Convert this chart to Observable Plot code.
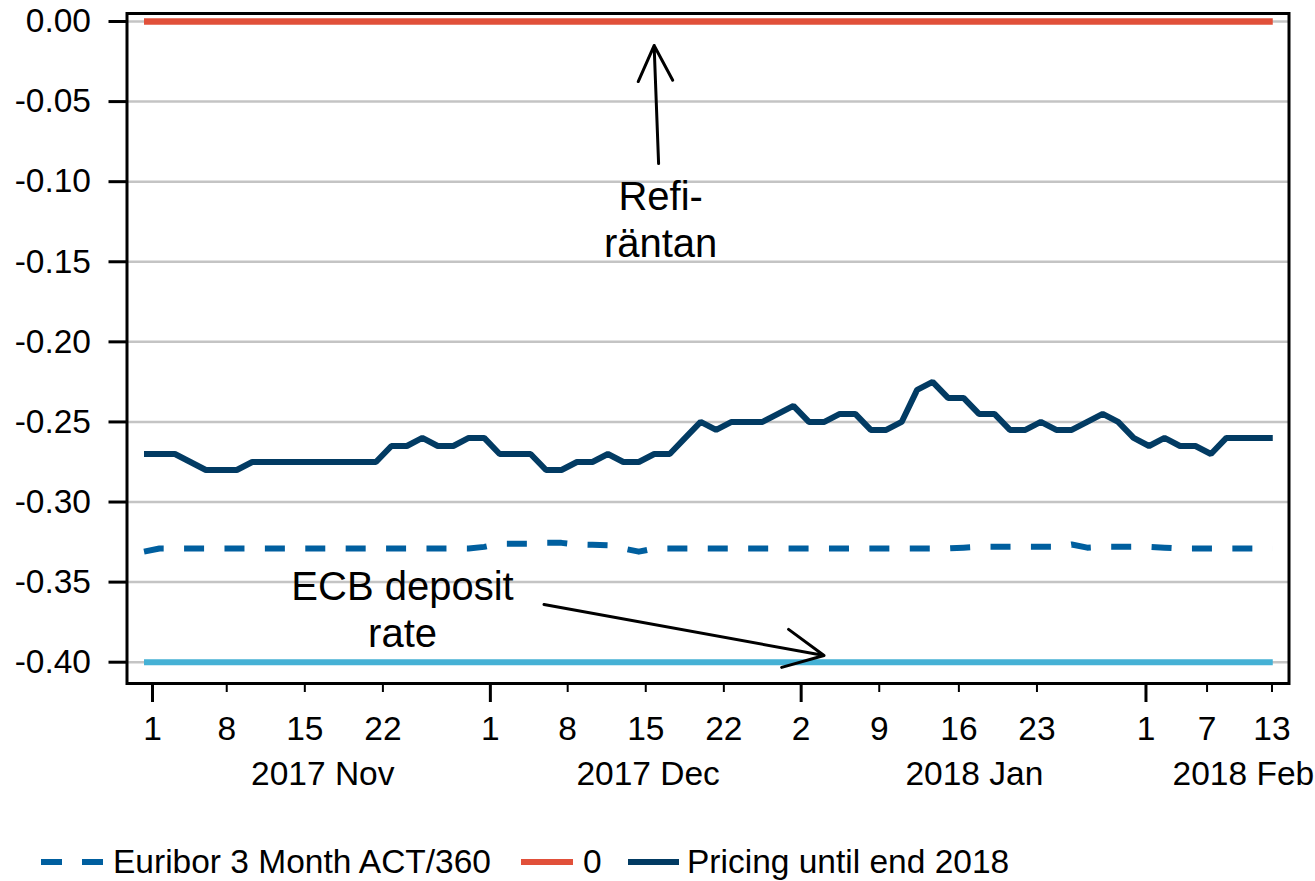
<!DOCTYPE html>
<html><head><meta charset="utf-8">
<script src="https://cdn.jsdelivr.net/npm/d3@7"></script>
<script src="https://cdn.jsdelivr.net/npm/@observablehq/plot@0.6"></script>
<style>
body{margin:0;background:#fff;font-family:"Liberation Sans",Arial,sans-serif;}
#wrap{position:relative;width:1315px;height:881px;overflow:hidden;}
#legend{position:absolute;left:0;top:845px;height:34px;width:1315px;font-size:33.5px;color:#000;}
#legend .it{position:absolute;top:0;height:34px;line-height:34px;white-space:nowrap;}
#legend svg{position:absolute;top:0;}
</style></head><body><div id="wrap"></div>
<script>
// Business-day observations, 1 Nov 2017 .. 13 Feb 2018 (index 0..73)
const euribor = [
  -0.331,-0.329,-0.329,-0.329,-0.329,-0.329,-0.329,-0.329,-0.329,-0.329,
  -0.329,-0.329,-0.329,-0.329,-0.329,-0.329,-0.329,-0.329,-0.329,-0.329,
  -0.329,-0.329,-0.328,-0.326,-0.326,-0.326,-0.3255,-0.3255,-0.3265,-0.3267,
  -0.327,-0.329,-0.331,-0.329,-0.329,-0.329,-0.329,-0.329,-0.329,-0.329,
  -0.329,-0.329,-0.329,-0.329,-0.329,-0.329,-0.329,-0.329,-0.329,-0.329,
  -0.329,-0.329,-0.329,-0.3285,-0.328,-0.328,-0.328,-0.328,-0.328,-0.328,
  -0.3265,-0.3285,-0.328,-0.328,-0.328,-0.328,-0.3285,-0.329,-0.329,-0.329,
  -0.329,-0.329,-0.329,-0.329
];
const pricing = [
  -0.27,-0.27,-0.27,-0.275,-0.28,-0.28,-0.28,-0.275,-0.275,-0.275,
  -0.275,-0.275,-0.275,-0.275,-0.275,-0.275,-0.265,-0.265,-0.26,-0.265,
  -0.265,-0.26,-0.26,-0.27,-0.27,-0.27,-0.28,-0.28,-0.275,-0.275,
  -0.27,-0.275,-0.275,-0.27,-0.27,-0.26,-0.25,-0.255,-0.25,-0.25,
  -0.25,-0.245,-0.24,-0.25,-0.25,-0.245,-0.245,-0.255,-0.255,-0.25,
  -0.23,-0.225,-0.235,-0.235,-0.245,-0.245,-0.255,-0.255,-0.25,-0.255,
  -0.255,-0.25,-0.245,-0.25,-0.26,-0.265,-0.26,-0.265,-0.265,-0.27,
  -0.26,-0.26,-0.26,-0.26
];
const refiRate = 0.00;
const ecbDeposit = -0.40;

const yTicks = [0, -0.05, -0.10, -0.15, -0.20, -0.25, -0.30, -0.35, -0.40];
const dayTickLabels = ["1","8","15","22","1","8","15","22","2","9","16","23","1","7","13"];
const dayTickPos = [0.55,5.35,10.4,15.45,22.4,27.4,32.45,37.5,42.5,47.55,52.7,57.75,64.8,68.75,72.95];
const dayTickMajor = [1,0,0,0,1,0,0,0,1,0,0,0,1,0,0];
const monthLabels = ["2017 Nov","2017 Dec","2018 Jan","2018 Feb"];
const monthLabelPos = [11.56, 32.6, 53.7, 71.1];

const annotText = ["Refi-\nräntan", "ECB deposit\nrate"];
const annotX = [33.41, 16.72];
const annotY = [-0.0974, -0.3409];
const arrowX1 = [33.28, 25.87], arrowY1 = [-0.0887, -0.364];
const arrowX2 = [32.99, 43.98], arrowY2 = [-0.0150, -0.3958];

const seriesNames = ["Euribor 3 Month ACT/360", "0", "Pricing until end 2018"];
const colors = {euribor: "#005f9f", refi: "#e1503a", ecb: "#45b1d5", pricing: "#023b63"};

const obs = pricing.map((v, i) => i);
const majorPos = dayTickPos.filter((d, i) => dayTickMajor[i]);
const minorPos = dayTickPos.filter((d, i) => !dayTickMajor[i]);
const dayTicks = dayTickPos.map((p, i) => ({p, label: dayTickLabels[i]}));
const months = monthLabelPos.map((p, i) => ({p, label: monthLabels[i]}));
const annots = annotText.map((t, i) => ({t, x: annotX[i], y: annotY[i]}));
const arrows = arrowX1.map((d, i) => ({x1: arrowX1[i], y1: arrowY1[i], x2: arrowX2[i], y2: arrowY2[i]}));

const chart = Plot.plot({
  width: 1315, height: 810,
  marginLeft: 126.5, marginRight: 26.5, marginTop: 13, marginBottom: 127,
  style: {fontFamily: "Liberation Sans, Arial, sans-serif", fontSize: "33.5px", color: "black", background: "white", overflow: "visible"},
  x: {type: "linear", domain: [-1.1, 74.05], label: null},
  y: {domain: [-0.4133, 0.005], label: null},
  marks: [
    Plot.gridY(yTicks, {stroke: "#c4c4c4", strokeOpacity: 1, strokeWidth: 2.5}),
    Plot.line(obs, {x: d => d, y: () => ecbDeposit, stroke: colors.ecb, strokeWidth: 6, strokeLinecap: "butt"}),
    Plot.line(obs, {x: d => d, y: () => refiRate, stroke: colors.refi, strokeWidth: 6.5, strokeLinecap: "butt"}),
    Plot.line(obs, {x: d => d, y: d => euribor[d], stroke: colors.euribor, strokeWidth: 6, strokeLinecap: "butt", strokeDasharray: "20,20.4"}),
    Plot.line(obs, {x: d => d, y: d => pricing[d], stroke: colors.pricing, strokeWidth: 6, strokeLinecap: "butt", strokeLinejoin: "miter"}),
    Plot.frame({stroke: "black", strokeWidth: 3}),
    Plot.axisY(yTicks, {tickSize: 18, tickPadding: 18, strokeWidth: 3, tickFormat: d => d.toFixed(2)}),
    Plot.axisX(majorPos, {tickSize: 19, strokeWidth: 3, tickFormat: () => ""}),
    Plot.axisX(minorPos, {tickSize: 9, strokeWidth: 2, tickFormat: () => ""}),
    Plot.text(dayTicks, {x: "p", text: "label", frameAnchor: "bottom", dy: 33, lineAnchor: "top", fill: "black"}),
    Plot.text(months, {x: "p", text: "label", frameAnchor: "bottom", dy: 78, lineAnchor: "top", fill: "black"}),
    Plot.text(annots, {x: "x", y: "y", text: "t", lineAnchor: "top", lineHeight: 1.16, fontSize: 40, fill: "black"}),
    Plot.arrow(arrows, {x1: "x1", y1: "y1", x2: "x2", y2: "y2", stroke: "black", strokeWidth: 3, headLength: 22, headAngle: 52})
  ]
});
const wrap = document.getElementById("wrap");
wrap.appendChild(chart);

const leg = document.createElement("div");
leg.id = "legend";
const sw = (left, w, color, dash) => `<svg style="left:${left}px" width="${w}" height="34"><line x1="0" x2="${w}" y1="17" y2="17" stroke="${color}" stroke-width="6" ${dash ? `stroke-dasharray="${dash}"` : ""}/></svg>`;
leg.innerHTML =
  sw(41, 62, colors.euribor, "21,20") + `<span class="it" style="left:113px">${seriesNames[0]}</span>` +
  sw(521, 52, colors.refi) + `<span class="it" style="left:583px">${seriesNames[1]}</span>` +
  sw(628, 51, colors.pricing) + `<span class="it" style="left:687px">${seriesNames[2]}</span>`;
wrap.appendChild(leg);
</script></body></html>
